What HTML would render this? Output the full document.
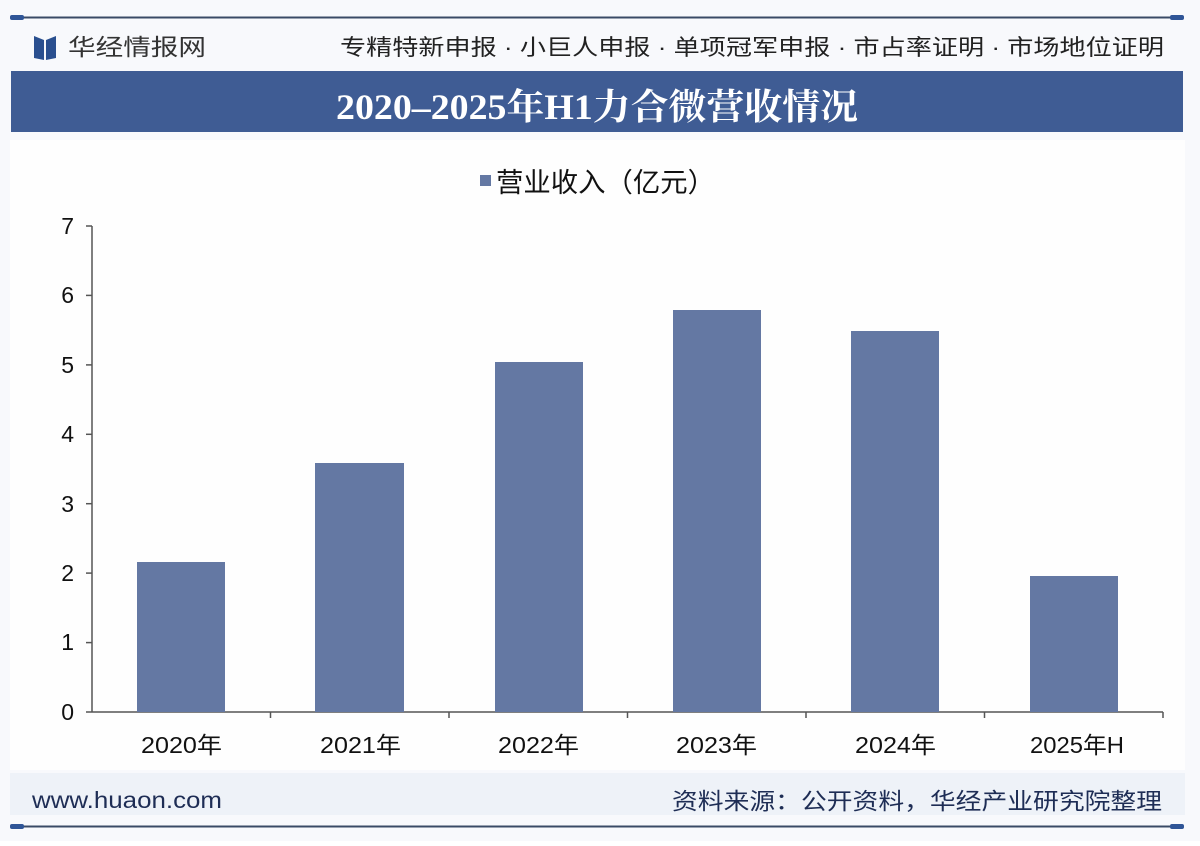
<!DOCTYPE html>
<html><head><meta charset="utf-8"><style>
html,body{margin:0;padding:0;background:#fff;}
body{width:1200px;height:841px;overflow:hidden;font-family:"Liberation Sans","Noto Sans CJK SC",sans-serif;}
</style></head><body>
<svg width="1200" height="841" viewBox="0 0 1200 841" xmlns="http://www.w3.org/2000/svg" font-family="Liberation Sans, Noto Sans CJK SC, sans-serif">
<rect width="1200" height="841" fill="#f8f9fc"/>
<rect x="10" y="140" width="1175" height="630" fill="#fefefe"/>
<line x1="12" y1="17.5" x2="1183" y2="17.5" stroke="#3a4a66" stroke-width="2"/>
<rect x="10" y="15" width="14" height="5" rx="2" fill="#2f5597"/>
<rect x="1170" y="15" width="14" height="5" rx="2" fill="#2f5597"/>
<path d="M34 36 L44 40 L44 60 L34 58 Z" fill="#2a4f8f"/>
<path d="M56 36 L46 40 L46 60 L56 58 Z" fill="#2a4f8f"/>
<text x="68" y="55" font-size="23" fill="#333" textLength="138" lengthAdjust="spacingAndGlyphs">华经情报网</text>
<text x="340" y="55" font-size="22" fill="#222" textLength="824" lengthAdjust="spacingAndGlyphs">专精特新申报 · 小巨人申报 · 单项冠军申报 · 市占率证明 · 市场地位证明</text>
<rect x="11" y="71" width="1172" height="61" fill="#3f5c94"/>
<text x="336" y="119" font-size="36" font-weight="bold" fill="#fff" font-family="Liberation Serif, Noto Serif CJK SC, serif" textLength="522" lengthAdjust="spacingAndGlyphs">2020–2025年H1力合微营收情况</text>
<rect x="480" y="175" width="11" height="11" fill="#6478a3"/>
<text x="496" y="192" font-size="27" fill="#111" textLength="219" lengthAdjust="spacingAndGlyphs">营业收入（亿元）</text>
<g stroke="#555" stroke-width="1.5">
<line x1="92" y1="226" x2="92" y2="712"/>
<line x1="92" y1="712" x2="1163" y2="712"/>
<line x1="86" y1="226" x2="92" y2="226"/><line x1="86" y1="295.4" x2="92" y2="295.4"/>
<line x1="86" y1="364.9" x2="92" y2="364.9"/><line x1="86" y1="434.3" x2="92" y2="434.3"/>
<line x1="86" y1="503.7" x2="92" y2="503.7"/><line x1="86" y1="573.1" x2="92" y2="573.1"/>
<line x1="86" y1="642.6" x2="92" y2="642.6"/><line x1="86" y1="712" x2="92" y2="712"/>
<line x1="270.5" y1="712" x2="270.5" y2="718"/><line x1="449" y1="712" x2="449" y2="718"/>
<line x1="627.5" y1="712" x2="627.5" y2="718"/><line x1="806" y1="712" x2="806" y2="718"/>
<line x1="984.5" y1="712" x2="984.5" y2="718"/><line x1="1163" y1="712" x2="1163" y2="718"/>
</g>
<g font-size="23" fill="#111" text-anchor="end">
<text x="74" y="234">7</text><text x="74" y="303">6</text><text x="74" y="373">5</text><text x="74" y="442">4</text>
<text x="74" y="512">3</text><text x="74" y="581">2</text><text x="74" y="650">1</text><text x="74" y="720">0</text>
</g>
<g fill="#6478a3">
<rect x="137" y="562" width="88" height="150"/>
<rect x="315" y="463" width="89" height="249"/>
<rect x="495" y="362" width="88" height="350"/>
<rect x="673" y="310" width="88" height="402"/>
<rect x="851" y="331" width="88" height="381"/>
<rect x="1030" y="576" width="88" height="136"/>
</g>
<g font-size="23" fill="#111">
<text x="141" y="753" textLength="81" lengthAdjust="spacingAndGlyphs">2020年</text>
<text x="320" y="753" textLength="81" lengthAdjust="spacingAndGlyphs">2021年</text>
<text x="498" y="753" textLength="81" lengthAdjust="spacingAndGlyphs">2022年</text>
<text x="676" y="753" textLength="81" lengthAdjust="spacingAndGlyphs">2023年</text>
<text x="855" y="753" textLength="81" lengthAdjust="spacingAndGlyphs">2024年</text>
<text x="1030" y="753" textLength="94" lengthAdjust="spacingAndGlyphs">2025年H</text>
</g>
<rect x="10" y="773" width="1175" height="42" fill="#eef2f8"/>
<text x="32" y="808" font-size="23" fill="#1e2d55" textLength="190" lengthAdjust="spacingAndGlyphs">www.huaon.com</text>
<text x="672" y="809" font-size="23" fill="#1e2d55" textLength="490" lengthAdjust="spacingAndGlyphs">资料来源：公开资料，华经产业研究院整理</text>
<line x1="12" y1="826.5" x2="1183" y2="826.5" stroke="#3a4a66" stroke-width="2"/>
<rect x="10" y="824" width="14" height="5" rx="2" fill="#2f5597"/>
<rect x="1170" y="824" width="14" height="5" rx="2" fill="#2f5597"/>
</svg>
</body></html>
